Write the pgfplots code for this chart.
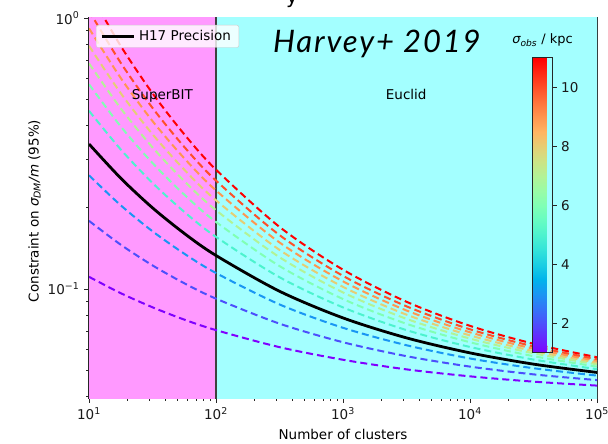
\documentclass[border=0pt]{standalone}
\usepackage{fontspec}
\setmainfont{DejaVu Sans}
\newfontfamily\lato[LetterSpace=6]{Lato}
\usepackage{pgfplots}
\usepackage{pgfplotstable}
\pgfplotsset{compat=1.18}

\definecolor{bgpink}{rgb}{1,0.6,1}
\definecolor{bgcyan}{rgb}{0.64,1,1}
\definecolor{s1}{rgb}{0.5,0,1}
\definecolor{s2}{rgb}{0.3,0.309,0.988}
\definecolor{s3}{rgb}{0.1,0.588,0.951}
\definecolor{s5}{rgb}{0.3,0.951,0.809}
\definecolor{s6}{rgb}{0.5,1,0.707}
\definecolor{s7}{rgb}{0.7,0.951,0.588}
\definecolor{s8}{rgb}{0.9,0.809,0.454}
\definecolor{s9}{rgb}{1,0.588,0.309}
\definecolor{s10}{rgb}{1,0.309,0.156}
\definecolor{s11}{rgb}{1,0,0}

\pgfplotstableread{
N      c1     c2     c3     black  c5     c6     c7     c8     c9     c10    c11
10     0.1109 0.1784 0.2627 0.3428 0.4545 0.5694 0.6800 0.7894 0.9162 1.0636 1.254
17.78  0.0965 0.1457 0.2036 0.2564 0.3273 0.3979 0.4639 0.5279 0.6006 0.6834 0.7885
31.62  0.0856 0.1222 0.1633 0.1993 0.2462 0.2917 0.3331 0.3726 0.4166 0.4659 0.5275
56.23  0.0771 0.1050 0.1350 0.1604 0.1926 0.2230 0.2502 0.2757 0.3037 0.3345 0.3724
100    0.0705 0.0921 0.1145 0.1329 0.1557 0.1768 0.1953 0.2124 0.2310 0.2512 0.2756
316.2  0.0610 0.0745 0.0877 0.0981 0.1105 0.1215 0.1310 0.1394 0.1485 0.1581 0.1695
1000   0.0548 0.0636 0.0719 0.0782 0.0855 0.0918 0.0971 0.1018 0.1067 0.1118 0.1178
3162   0.0505 0.0565 0.0620 0.0660 0.0705 0.0744 0.0776 0.0804 0.0833 0.0863 0.0897
10000  0.0476 0.0517 0.0554 0.0581 0.0611 0.0636 0.0656 0.0674 0.0692 0.0710 0.0731
31623  0.0455 0.0484 0.0510 0.0528 0.0549 0.0565 0.0579 0.0590 0.0602 0.0614 0.0628
100000 0.0440 0.0461 0.0479 0.0492 0.0506 0.0517 0.0527 0.0535 0.0543 0.0551 0.0560
}\curves

\pgfplotsset{dashcurve/.style={line width=2pt, dash pattern=on 7pt off 4pt, smooth, forget plot}}

\begin{document}
\fontsize{13.5}{16}\selectfont
\begin{tikzpicture}[x=1pt,y=1pt]
\begin{axis}[
  at={(0,0)}, anchor=south west,
  scale only axis, width=508pt, height=380pt,
  xmode=log, ymode=log,
  xmin=10, xmax=100000, ymin=0.0396, ymax=1,
  axis line style={black!85, line width=1.1pt},
  tick align=outside, tick pos=left,
  major tick length=5pt, minor tick length=3pt,
  every tick/.style={black!85, line width=0.9pt},
  xtick={10,100,1000,10000,100000},
  xticklabels={10\textsuperscript{1},10\textsuperscript{2},10\textsuperscript{3},10\textsuperscript{4},10\textsuperscript{5}},
  minor xtick={20,30,40,50,60,70,80,90,200,300,400,500,600,700,800,900,2000,3000,4000,5000,6000,7000,8000,9000,20000,30000,40000,50000,60000,70000,80000,90000},
  ytick={0.1,1},
  yticklabels={10\textsuperscript{−1},10\textsuperscript{0}},
  minor ytick={0.04,0.05,0.06,0.07,0.08,0.09,0.2,0.3,0.4,0.5,0.6,0.7,0.8,0.9},
  ticklabel style={text=black!90},
  xlabel={Number of clusters},
  ylabel={Constraint on {\itshape σ}\textsubscript{\itshape DM}{\itshape /m} (95\%)},
  xlabel style={at={(axis description cs:0.5,-0.1105)}, anchor=base},
  ylabel style={at={(axis description cs:-0.0994,0.492)}, anchor=base},
  point meta min=1, point meta max=11,
  colormap={mplrainbow}{rgb=(0.5,0,1) rgb=(0.4,0.156,0.997) rgb=(0.3,0.309,0.988) rgb=(0.2,0.454,0.972) rgb=(0.1,0.588,0.951) rgb=(0,0.707,0.924) rgb=(0.1,0.809,0.891) rgb=(0.2,0.891,0.853) rgb=(0.3,0.951,0.809) rgb=(0.4,0.988,0.760) rgb=(0.5,1,0.707) rgb=(0.6,0.988,0.649) rgb=(0.7,0.951,0.588) rgb=(0.8,0.891,0.522) rgb=(0.9,0.809,0.454) rgb=(1,0.707,0.383) rgb=(1,0.588,0.309) rgb=(1,0.454,0.233) rgb=(1,0.309,0.156) rgb=(1,0.156,0.078) rgb=(1,0,0)},
  colorbar,
  colorbar style={
    at={(parent axis.north west)}, anchor=north west,
    xshift=435pt, yshift=-40pt,
    xmode=normal, ymode=normal,
    scale only axis, width=20pt, height=295pt,
    ymin=1, ymax=11,
    ytick={2,4,6,8,10},
    yticklabels={2,4,6,8,10},
    minor ytick={},
    ytick pos=right, yticklabel pos=right,
    tick align=outside, major tick length=4pt,
    every tick/.style={black!85, line width=0.9pt},
    axis line style={black!85, line width=1pt},
    title={{\itshape σ}\textsubscript{\itshape obs} / kpc},
    title style={at={(0.5,1)}, anchor=base, yshift=8pt, font=\fontsize{13}{15}\selectfont},
  },
  legend style={at={(0,1)}, anchor=north west, xshift=7pt, yshift=-7pt,
    fill=white, fill opacity=0.8, draw opacity=1, text opacity=1,
    draw=black!20, rounded corners=2pt, font=\fontsize{13.5}{16}\selectfont,
    inner xsep=4pt, inner ysep=3pt, nodes={inner xsep=4pt}},
  legend cell align=left,
  legend image code/.code={\draw[#1] (0pt,0pt) -- (32pt,0pt);},
  clip=true,
]
\addplot[fill=bgpink, draw=none, forget plot] coordinates {(10,0.01) (100,0.01) (100,10) (10,10) (10,0.01)};
\addplot[fill=bgcyan, draw=none, forget plot] coordinates {(100,0.01) (100000,0.01) (100000,10) (100,10) (100,0.01)};
\addplot[black!75, line width=2.5pt, forget plot] coordinates {(100,0.01) (100,10)};

\addplot[s1, dashcurve] table[x=N, y=c1] {\curves};
\addplot[s2, dashcurve] table[x=N, y=c2] {\curves};
\addplot[s3, dashcurve] table[x=N, y=c3] {\curves};
\addplot[s5, dashcurve] table[x=N, y=c5] {\curves};
\addplot[s6, dashcurve] table[x=N, y=c6] {\curves};
\addplot[s7, dashcurve] table[x=N, y=c7] {\curves};
\addplot[s8, dashcurve] table[x=N, y=c8] {\curves};
\addplot[s9, dashcurve] table[x=N, y=c9] {\curves};
\addplot[s10, dashcurve] table[x=N, y=c10] {\curves};
\addplot[s11, dashcurve] table[x=N, y=c11] {\curves};
\addplot[black, line width=2.8pt, smooth] table[x=N, y=black] {\curves};
\addlegendentry{H17 Precision}

\node[anchor=base west] at (axis cs:20,0.5) {SuperBIT};
\node[anchor=base west] at (axis cs:2000,0.5) {Euclid};
\node[anchor=base west, inner sep=0pt] at (rel axis cs:0.362,0.908) {\fontsize{31}{35}\selectfont\lato\itshape Harvey+ 2019};
\end{axis}
\node[anchor=base] at (203,394) {\fontsize{20}{24}\selectfont y};
\pgfresetboundingbox
\useasboundingbox (-89,-46) rectangle (519,398);
\end{tikzpicture}
\end{document}
